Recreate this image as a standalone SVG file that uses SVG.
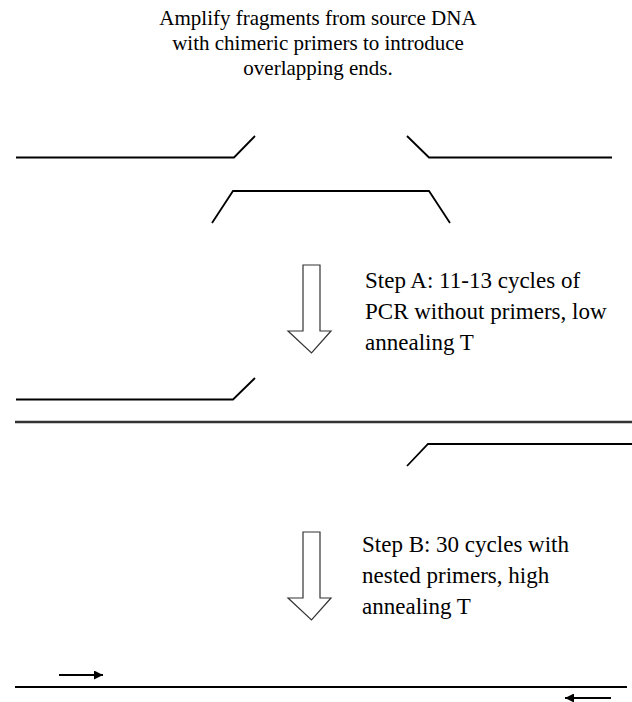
<svg xmlns="http://www.w3.org/2000/svg" width="632" height="702" viewBox="0 0 632 702">
<style>
.t{font-family:"Liberation Serif","Times New Roman","DejaVu Serif",serif;fill:#000}
.title{font-size:21px;text-anchor:middle}
.step{font-size:23px}
.dna{fill:none;stroke:#000;stroke-width:1.8}
.dup{fill:none;stroke:#333;stroke-width:2.5}
.blk{fill:#fff;stroke:#333;stroke-width:1.2}
.pr{stroke:#000;stroke-width:1.8}
</style>
<defs>
<marker id="ah" viewBox="0 0 10 10" refX="10" refY="5" markerWidth="6" markerHeight="5" orient="auto" markerUnits="strokeWidth">
<path d="M0,0 L10,5 L0,10 z" fill="#000"/>
</marker>
</defs>
<g id="title">
<text class="t title" x="318" y="25">Amplify fragments from source DNA</text>
<text class="t title" x="318" y="50">with chimeric primers to introduce</text>
<text class="t title" x="318" y="75">overlapping ends.</text>
</g>
<g id="fragment-left"><path class="dna" d="M16,157.5 H234 L255,136"/></g>
<g id="fragment-right"><path class="dna" d="M407,136 L429,157.5 H612"/></g>
<g id="fragment-middle"><path class="dna" d="M212,223 L233,191 H429 L450,223"/></g>
<g id="step-a-arrow"><path class="blk" d="M303,265 H320 V331 H331 L311.5,353 L288,331 H303 Z"/></g>
<g id="step-a-label">
<text class="t step" x="365" y="288">Step A: 11-13 cycles of</text>
<text class="t step" x="365" y="319">PCR without primers, low</text>
<text class="t step" x="365" y="350">annealing T</text>
</g>
<g id="strand-left"><path class="dna" d="M16,399.5 H233 L255,378"/></g>
<g id="strand-long"><path class="dup" d="M15,422 H632"/></g>
<g id="strand-right"><path class="dna" d="M407,466 L428,444 H632"/></g>
<g id="step-b-arrow"><path class="blk" d="M303,532 H320 V598 H331 L311.5,620 L288,598 H303 Z"/></g>
<g id="step-b-label">
<text class="t step" x="362" y="552">Step B: 30 cycles with</text>
<text class="t step" x="362" y="583">nested primers, high</text>
<text class="t step" x="362" y="614">annealing T</text>
</g>
<g id="product"><path class="dna" d="M15,687 H627"/></g>
<g id="connectors">
<line class="pr" x1="59" y1="675" x2="103" y2="675" marker-end="url(#ah)"/>
<line class="pr" x1="611" y1="698" x2="565" y2="698" marker-end="url(#ah)"/>
</g>
</svg>
